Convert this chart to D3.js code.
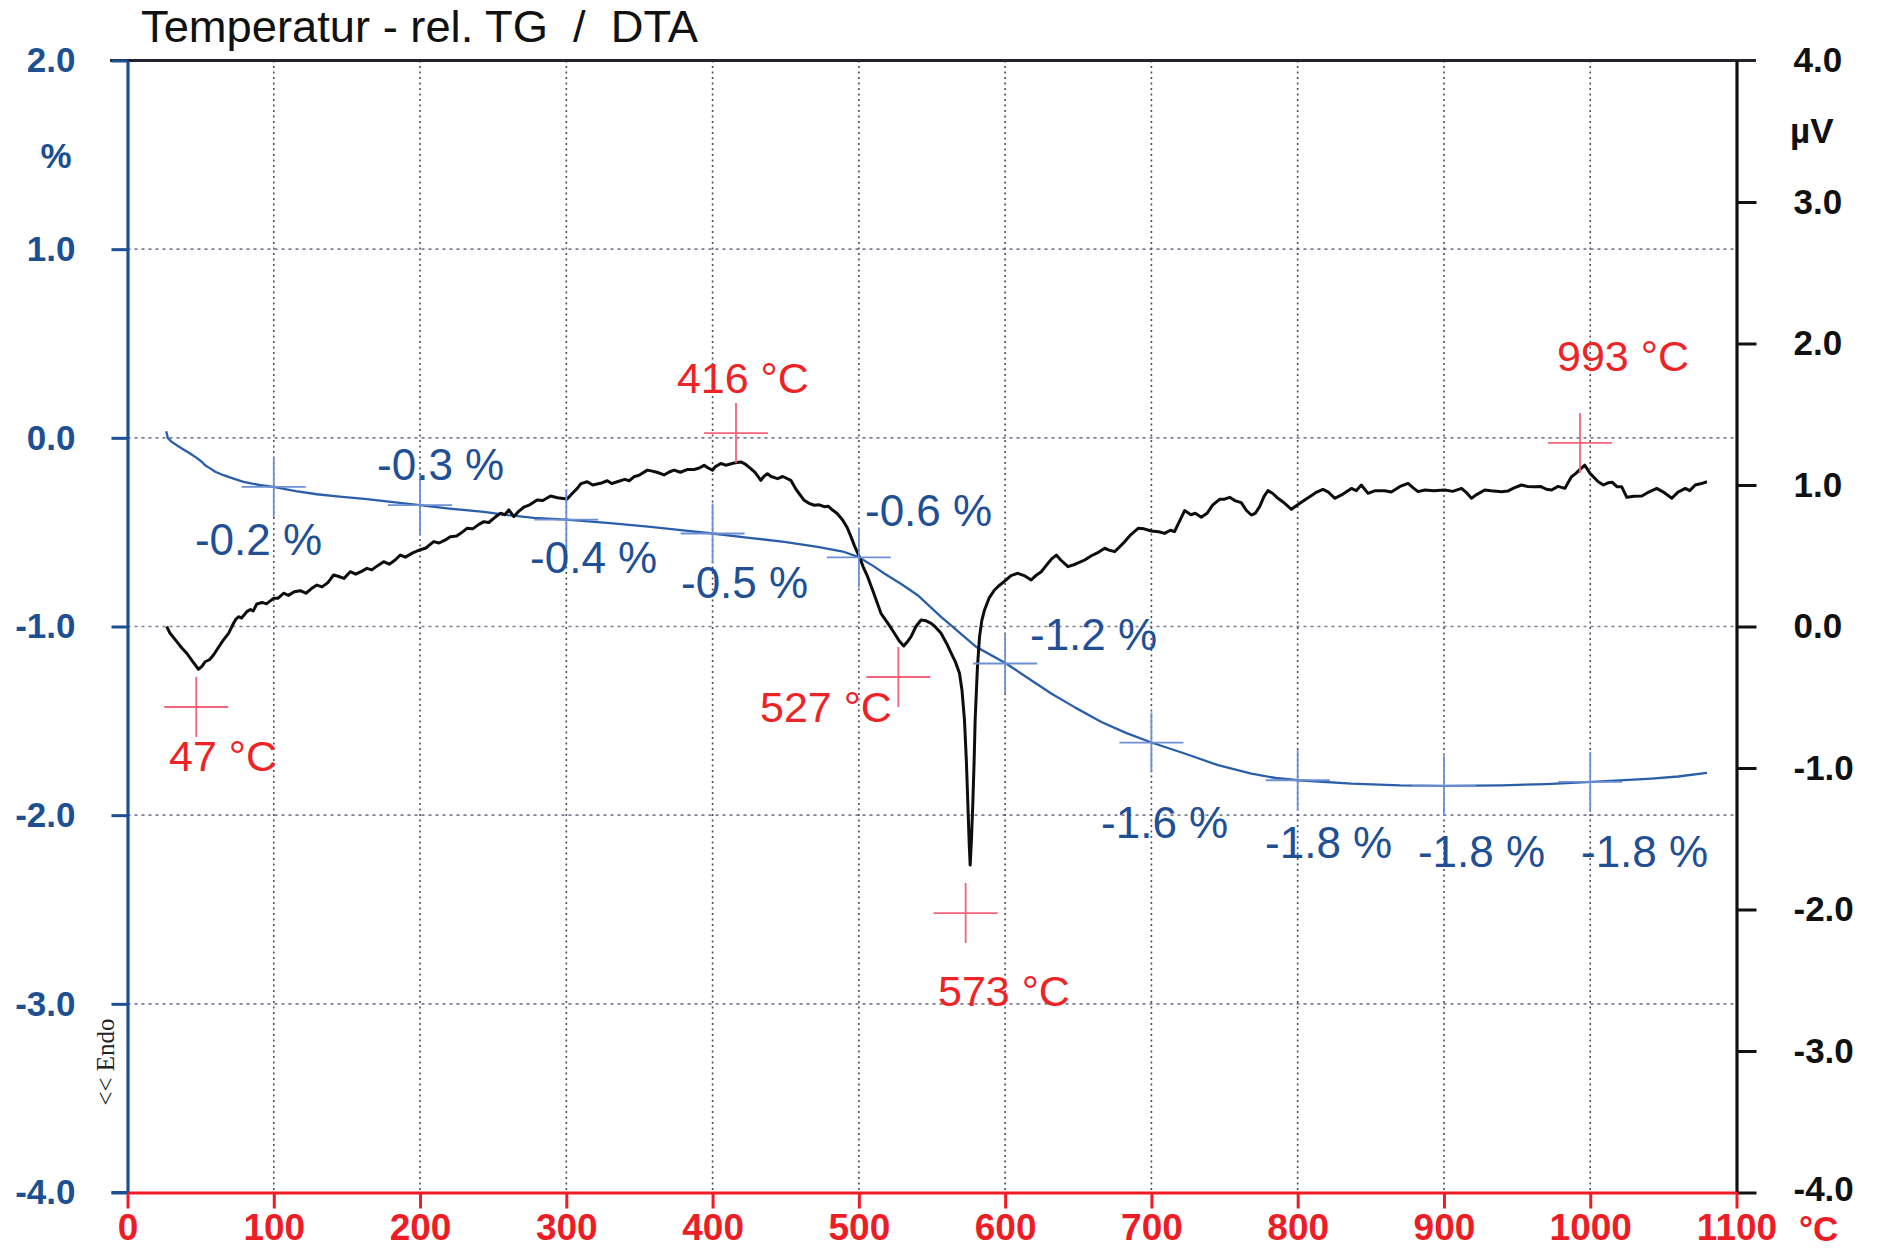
<!DOCTYPE html>
<html>
<head>
<meta charset="utf-8">
<script src="https://cdn.jsdelivr.net/npm/d3@7"></script>
<style>
  html, body { margin: 0; padding: 0; background: #fff; }
  svg { display: block; font-family: "Liberation Sans", Arial, sans-serif; }
</style>
</head>
<body>
<svg id="chart" width="1879" height="1249"></svg>
<script>
// ---------------- DATA ----------------
const xTicks = [0, 100, 200, 300, 400, 500, 600, 700, 800, 900, 1000, 1100];
const leftTicks = [2, 1, 0, -1, -2, -3, -4];
const rightTicks = [4, 3, 2, 1, 0, -1, -2, -3, -4];

// TG (relative mass change, %) vs temperature (°C)
const tgT = [26.5, 27.5, 30, 33.7, 38, 42.8, 47, 50.8, 53, 56.5, 60, 65.6, 72, 79.3, 90, 99.8, 115, 129.5, 145, 163.7, 180, 199.8, 220, 243.6, 260, 277.8, 300, 330, 357.6, 380, 399.9, 425, 449, 471.8, 490, 500.3, 510, 517.4, 530, 540.2, 556.2, 570, 580.2, 600.7, 615, 631.5, 648, 665.8, 683, 700, 722.7, 745.5, 768.3, 785, 800.3, 836.7, 870, 900.6, 939.4, 970, 1001, 1042, 1060, 1079.8];
const tgV = [0.035, 0.0, -0.02, -0.039, -0.06, -0.083, -0.105, -0.127, -0.145, -0.162, -0.18, -0.198, -0.215, -0.233, -0.25, -0.26, -0.282, -0.299, -0.312, -0.325, -0.34, -0.357, -0.375, -0.392, -0.41, -0.424, -0.433, -0.452, -0.472, -0.49, -0.507, -0.53, -0.551, -0.578, -0.605, -0.634, -0.68, -0.719, -0.78, -0.834, -0.949, -1.04, -1.108, -1.196, -1.27, -1.355, -1.43, -1.506, -1.565, -1.615, -1.673, -1.735, -1.78, -1.803, -1.815, -1.833, -1.842, -1.845, -1.842, -1.835, -1.824, -1.806, -1.795, -1.776];

// DTA (µV) vs temperature (°C)
const dtaT = [26.8, 29.1, 33.7, 37, 40.5, 44, 48.5, 51, 53.1, 56, 58.8, 62, 65.6, 69, 72.5, 74, 75.9, 78, 81.6, 84, 86, 88.4, 92, 95, 99.8, 103, 106.7, 110, 114, 118.1, 122, 126, 129.5, 133, 137, 140.9, 144, 148, 152.3, 156, 160, 163.7, 167, 171, 175.1, 179, 183, 186.5, 190, 195, 199.8, 204, 209.3, 213, 217, 220.7, 225, 228, 232.1, 236, 240, 243.6, 247, 251, 255, 258, 260.7, 262.5, 264.1, 267, 270.9, 275, 280, 284, 289.2, 294, 300.6, 304, 307.5, 310, 314.3, 318, 323.4, 328, 331, 334.8, 340, 343, 346.2, 350, 355.4, 358, 362, 366.8, 370, 373.6, 378, 383, 387.3, 391, 394.2, 397, 399.9, 402, 405.6, 409, 414.7, 419.3, 422, 426.1, 429, 433, 435, 437.5, 440, 444.4, 448, 453.5, 457, 462.6, 466, 469.5, 473, 476.3, 479, 482, 485, 488.9, 492, 494.6, 497, 500.3, 503, 506, 510, 515.1, 520, 524.3, 527.5, 530.7, 533, 535.7, 539, 542.5, 546, 549.4, 552, 556.2, 560, 563.1, 566, 568.8, 570.5, 572.2, 573.5, 574.5, 575.5, 576.1, 577, 577.9, 578.8, 579.5, 581, 582.5, 584, 585.9, 589, 592.7, 596, 600.7, 604, 608.7, 613, 617.8, 621, 624.7, 628, 632, 635, 638, 643, 648, 654.4, 659, 663, 668.1, 671, 674.9, 678, 681.8, 686, 690.9, 695, 700, 705, 709, 713, 715.8, 719, 722.7, 727, 730, 734.1, 738, 742, 746.6, 750, 753.5, 757, 761.4, 765, 768.3, 771, 774, 777, 779.7, 783, 786.5, 790, 795.7, 800, 804.8, 810, 813, 817.3, 821, 825.3, 830, 836.7, 840, 843.5, 848.1, 853, 859.5, 864, 870, 875.5, 879, 882.3, 887, 893, 900.6, 906, 912, 915, 918.8, 922, 927.9, 932, 939.4, 943.9, 948, 953, 957, 962.1, 966, 970, 973.6, 978, 982.7, 985, 987.2, 990, 993, 996.3, 1000, 1005.5, 1009, 1012.5, 1015, 1018.2, 1021.5, 1025, 1030, 1035.3, 1040, 1045.5, 1050, 1055.8, 1060, 1065, 1068, 1071.8, 1076, 1079.8];
const dtaV = [0.0, -0.048, -0.107, -0.15, -0.189, -0.24, -0.302, -0.28, -0.249, -0.235, -0.201, -0.15, -0.095, -0.05, 0.023, 0.05, 0.069, 0.06, 0.105, 0.12, 0.11, 0.159, 0.17, 0.16, 0.199, 0.2, 0.235, 0.22, 0.245, 0.253, 0.235, 0.27, 0.293, 0.28, 0.31, 0.364, 0.355, 0.34, 0.387, 0.37, 0.39, 0.411, 0.4, 0.43, 0.458, 0.44, 0.47, 0.505, 0.49, 0.52, 0.541, 0.555, 0.6, 0.59, 0.61, 0.635, 0.64, 0.66, 0.694, 0.69, 0.72, 0.741, 0.735, 0.77, 0.8, 0.79, 0.824, 0.8, 0.777, 0.81, 0.843, 0.86, 0.894, 0.89, 0.922, 0.91, 0.901, 0.94, 0.976, 1.01, 1.023, 1.0, 1.012, 1.03, 1.01, 1.023, 1.04, 1.03, 1.058, 1.07, 1.105, 1.1, 1.09, 1.071, 1.09, 1.105, 1.09, 1.11, 1.11, 1.12, 1.14, 1.12, 1.105, 1.13, 1.152, 1.14, 1.155, 1.163, 1.15, 1.116, 1.09, 1.033, 1.06, 1.08, 1.06, 1.045, 1.06, 1.033, 0.97, 0.892, 0.87, 0.857, 0.86, 0.847, 0.85, 0.823, 0.8, 0.753, 0.7, 0.635, 0.57, 0.494, 0.42, 0.352, 0.24, 0.093, 0.02, -0.048, -0.1, -0.138, -0.11, -0.072, 0.0, 0.046, 0.04, 0.022, 0.0, -0.048, -0.12, -0.189, -0.25, -0.331, -0.45, -0.661, -0.95, -1.25, -1.55, -1.686, -1.5, -1.25, -0.95, -0.661, -0.3, -0.072, 0.04, 0.117, 0.2, 0.258, 0.29, 0.329, 0.36, 0.376, 0.36, 0.329, 0.36, 0.387, 0.43, 0.48, 0.505, 0.47, 0.423, 0.44, 0.47, 0.5, 0.52, 0.553, 0.54, 0.529, 0.56, 0.6, 0.65, 0.694, 0.69, 0.675, 0.67, 0.658, 0.68, 0.67, 0.74, 0.819, 0.79, 0.8, 0.772, 0.8, 0.86, 0.899, 0.9, 0.913, 0.89, 0.875, 0.82, 0.788, 0.8, 0.847, 0.92, 0.96, 0.94, 0.906, 0.88, 0.828, 0.86, 0.894, 0.93, 0.95, 0.969, 0.95, 0.906, 0.93, 0.976, 0.96, 1.0, 0.941, 0.96, 0.96, 0.95, 0.99, 1.011, 0.98, 0.953, 0.965, 0.96, 0.965, 0.955, 0.976, 0.95, 0.906, 0.93, 0.965, 0.96, 0.953, 0.958, 0.98, 1.0, 0.99, 0.988, 0.99, 0.97, 0.965, 0.99, 0.976, 1.02, 1.058, 1.08, 1.11, 1.14, 1.08, 1.023, 1.0, 1.016, 1.02, 0.988, 0.988, 0.913, 0.92, 0.922, 0.95, 0.976, 0.95, 0.906, 0.95, 0.976, 0.96, 1.0, 1.01, 1.023];

// TG step markers (every 100 °C) and their labels
const tgMarkT = [100, 200, 300, 400, 500, 600, 700, 800, 900, 1000];
const tgMarkV = [-0.26, -0.357, -0.433, -0.507, -0.634, -1.196, -1.615, -1.815, -1.845, -1.824];
const tgLabels = ["-0.2 %", "-0.3 %", "-0.4 %", "-0.5 %", "-0.6 %", "-1.2 %", "-1.6 %", "-1.8 %", "-1.8 %", "-1.8 %"];
const tgLabelT = [46.1, 170.6, 275.2, 378.4, 504.2, 617, 665.6, 777.7, 882.2, 993.7];
const tgLabelV = [-0.622, -0.224, -0.717, -0.849, -0.467, -1.125, -2.121, -2.227, -2.274, -2.274];

// DTA peak markers and labels
const peakT = [47, 416, 527, 573, 993];
const peakMarkV = [-0.569, 1.367, -0.357, -2.025, 1.297];
const peakLabels = ["47 °C", "416 °C", "527 °C", "573 °C", "993 °C"];
const peakLabelT = [28.4, 375.6, 432.4, 554.1, 977.3];
const peakLabelV = [-1.021, 1.65, -0.673, -2.682, 1.806];

// ---------------- CHART ----------------
const svg = d3.select("#chart");
const L = 127.5, R = 1736.5, T = 60.5, B = 1192.5;
const x = d3.scaleLinear().domain([0, 1100]).range([L, R]);
const yL = d3.scaleLinear().domain([-4, 2]).range([B, T]);
const yR = d3.scaleLinear().domain([-4, 4]).range([B, T]);

const blueAxis = "#1d4f93";
const tgColor = "#2b5ea9";
const red = "#ee1c25";
const crossRed = "#f2657a";
const crossBlue = "#6d8fd3";

// gridlines
svg.append("g").selectAll("line").data([1, 0, -1, -2, -3]).join("line")
  .attr("x1", L).attr("x2", R).attr("y1", d => yL(d)).attr("y2", d => yL(d))
  .attr("stroke", "#7d7d92").attr("stroke-width", 1.7).attr("stroke-dasharray", "3,4");
svg.append("g").selectAll("line").data(xTicks.slice(1, 11)).join("line")
  .attr("x1", d => x(d)).attr("x2", d => x(d)).attr("y1", T).attr("y2", B)
  .attr("stroke", "#4d4d60").attr("stroke-width", 1.6).attr("stroke-dasharray", "2,3.5");

// top border
svg.append("line").attr("x1", 110).attr("x2", 1756).attr("y1", T).attr("y2", T)
  .attr("stroke", "#22232e").attr("stroke-width", 3);

// title
svg.append("text").attr("x", 141).attr("y", 42).attr("font-size", 44)
  .attr("fill", "#111").style("white-space", "pre")
  .attr("textLength", 557).attr("lengthAdjust", "spacingAndGlyphs")
  .text("Temperatur - rel. TG  /  DTA");

// axes
const fmt = d => d.toFixed(1);
const gL = svg.append("g").attr("transform", `translate(${L},0)`)
  .call(d3.axisLeft(yL).tickValues(leftTicks).tickSize(16).tickSizeOuter(0).tickPadding(36).tickFormat(fmt));
gL.select(".domain").attr("stroke", blueAxis).attr("stroke-width", 3.2);
gL.selectAll(".tick line").attr("stroke", blueAxis).attr("stroke-width", 3);
gL.selectAll(".tick text").attr("fill", blueAxis).attr("font-size", 35).attr("font-weight", "bold")
  .attr("font-family", "Liberation Sans, Arial, sans-serif");

const gR = svg.append("g").attr("transform", `translate(${R},0)`)
  .call(d3.axisRight(yR).tickValues(rightTicks).tickSize(20).tickSizeOuter(0).tickPadding(37).tickFormat(fmt));
gR.select(".domain").attr("stroke", "#111").attr("stroke-width", 3.2);
gR.selectAll(".tick line").attr("stroke", "#111").attr("stroke-width", 3);
gR.selectAll(".tick text").attr("fill", "#111").attr("font-size", 35).attr("font-weight", "bold")
  .attr("font-family", "Liberation Sans, Arial, sans-serif");
gR.selectAll(".tick").filter(d => d === 4).select("line").remove();
gR.selectAll(".tick").filter(d => d === -4).select("text").attr("y", -3);

const gB = svg.append("g").attr("transform", `translate(0,${B})`)
  .call(d3.axisBottom(x).tickValues(xTicks).tickSize(16).tickSizeOuter(0).tickPadding(5).tickFormat(d3.format("d")));
gB.select(".domain").attr("stroke", red).attr("stroke-width", 3);
gB.selectAll(".tick line").attr("stroke", red).attr("stroke-width", 3);
gB.selectAll(".tick text").attr("fill", red).attr("font-size", 37).attr("font-weight", "bold")
  .attr("font-family", "Liberation Sans, Arial, sans-serif");
// left -4.0 tick on top of red line
svg.append("line").attr("x1", L - 16).attr("x2", L).attr("y1", B).attr("y2", B)
  .attr("stroke", blueAxis).attr("stroke-width", 3);

// unit labels
svg.append("text").attr("x", 56).attr("y", 168).attr("text-anchor", "middle")
  .attr("font-size", 35).attr("font-weight", "bold").attr("fill", blueAxis).text("%");
svg.append("text").attr("x", 1790).attr("y", 143)
  .attr("font-size", 35).attr("font-weight", "bold").attr("fill", "#111").text("µV");
svg.append("text").attr("x", 1799).attr("y", 1241)
  .attr("font-size", 35).attr("font-weight", "bold").attr("fill", red).text("°C");
svg.append("text").attr("transform", "translate(114,1062) rotate(-90)")
  .attr("text-anchor", "middle").attr("font-family", "Liberation Serif, Times New Roman, serif")
  .attr("font-size", 25).attr("fill", "#222").text("<< Endo");

// curves
const tgData = tgT.map((t, i) => [t, tgV[i]]);
const dtaData = dtaT.map((t, i) => [t, dtaV[i]]);
svg.append("path").datum(tgData)
  .attr("d", d3.line().x(d => x(d[0])).y(d => yL(d[1])))
  .attr("fill", "none").attr("stroke", tgColor).attr("stroke-width", 2.3).attr("stroke-linejoin", "round");
svg.append("path").datum(dtaData)
  .attr("d", d3.line().x(d => x(d[0])).y(d => yR(d[1])))
  .attr("fill", "none").attr("stroke", "#0d0d0d").attr("stroke-width", 3).attr("stroke-linejoin", "round");

// TG markers
const gTm = svg.append("g");
tgMarkT.forEach((t, i) => {
  const cx = x(t), cy = yL(tgMarkV[i]);
  gTm.append("line").attr("x1", cx - 32).attr("x2", cx + 32).attr("y1", cy).attr("y2", cy)
    .attr("stroke", crossBlue).attr("stroke-width", 1.8);
  gTm.append("line").attr("x1", cx).attr("x2", cx).attr("y1", cy - 30).attr("y2", cy + 30)
    .attr("stroke", crossBlue).attr("stroke-width", 1.8);
});
svg.append("g").selectAll("text").data(tgLabels).join("text")
  .attr("x", (d, i) => x(tgLabelT[i])).attr("y", (d, i) => yL(tgLabelV[i]))
  .attr("font-size", 44).attr("fill", "#1f4f95").style("white-space", "pre").text(d => d);

// DTA peak markers
const gPm = svg.append("g");
peakT.forEach((t, i) => {
  const cx = x(t), cy = yR(peakMarkV[i]);
  gPm.append("line").attr("x1", cx - 32).attr("x2", cx + 32).attr("y1", cy).attr("y2", cy)
    .attr("stroke", crossRed).attr("stroke-width", 1.8);
  gPm.append("line").attr("x1", cx).attr("x2", cx).attr("y1", cy - 30).attr("y2", cy + 30)
    .attr("stroke", crossRed).attr("stroke-width", 1.8);
});
svg.append("g").selectAll("text").data(peakLabels).join("text")
  .attr("x", (d, i) => x(peakLabelT[i])).attr("y", (d, i) => yR(peakLabelV[i]))
  .attr("font-size", 43).attr("fill", "#ee2326").text(d => d);
</script>
</body>
</html>
